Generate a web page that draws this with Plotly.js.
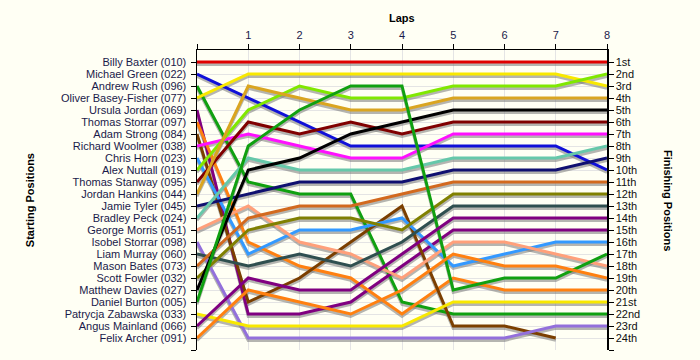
<!DOCTYPE html>
<html>
<head>
<meta charset="utf-8">
<script src="https://cdn.plot.ly/plotly-3.0.1.min.js"></script>
<style>html,body{margin:0;padding:0;background:#fffff4;}#chart{width:700px;height:360px;}</style>
</head>
<body>
<div id="chart"></div>
<script>
var laps = [0, 1, 2, 3, 4, 5, 6, 7, 8];
var lapLabels = ['', '1', '2', '3', '4', '5', '6', '7', '8'];

var drivers = [
  'Billy Baxter (010)', 'Michael Green (022)', 'Andrew Rush (096)', 'Oliver Basey-Fisher (077)',
  'Ursula Jordan (069)', 'Thomas Storrar (097)', 'Adam Strong (084)', 'Richard Woolmer (038)',
  'Chris Horn (023)', 'Alex Nuttall (019)', 'Thomas Stanway (095)', 'Jordan Hankins (044)',
  'Jamie Tyler (045)', 'Bradley Peck (024)', 'George Morris (051)', 'Isobel Storrar (098)',
  'Liam Murray (060)', 'Mason Bates (073)', 'Scott Fowler (032)', 'Matthew Davies (027)',
  'Daniel Burton (005)', 'Patrycja Zabawska (033)', 'Angus Mainland (066)', 'Felix Archer (091)'
];

var finishLabels = ['1st','2nd','3rd','4th','5th','6th','7th','8th','9th','10th','11th','12th',
  '13th','14th','15th','16th','17th','18th','19th','20th','21st','22nd','23rd','24th'];

var positions = [
  [1, 1, 1, 1, 1, 1, 1, 1, 1],
  [2, 4, 6, 8, 8, 8, 8, 8, 10],
  [3, 11, 12, 12, 21, 22, 22, 22, 22],
  [4, 2, 2, 2, 2, 2, 2, 2, 3],
  [5, 22, 22, 21, 18, 15, 15, 15, 15],
  [6, 16, 18, 19, 22, 19, 20, 20, 20],
  [7, 21, 19, 16, 13, 23, 23, 24, null],
  [8, 7, 8, 9, 9, 7, 7, 7, 7],
  [9, 17, 15, 15, 14, 18, 17, 16, 16],
  [10, 5, 3, 4, 4, 3, 3, 3, 2],
  [11, 6, 7, 6, 7, 6, 6, 6, 6],
  [12, 3, 4, 5, 5, 4, 4, 4, 4],
  [13, 12, 11, 11, 11, 10, 10, 10, 9],
  [14, 9, 10, 10, 10, 9, 9, 9, 8],
  [15, 13, 16, 17, 19, 16, 16, 17, 18],
  [16, 24, 24, 24, 24, 24, 24, 23, 23],
  [17, 18, 17, 18, 16, 13, 13, 13, 13],
  [18, 14, 13, 13, 12, 11, 11, 11, 11],
  [19, 15, 14, 14, 15, 12, 12, 12, 12],
  [20, 10, 9, 7, 6, 5, 5, 5, 5],
  [21, 8, 5, 3, 3, 20, 19, 19, 17],
  [22, 23, 23, 23, 23, 21, 21, 21, 21],
  [23, 19, 20, 20, 17, 14, 14, 14, 14],
  [24, 20, 21, 22, 20, 17, 18, 18, 19]
];

var colors = [
  '#e00000', '#1010d8', '#10a010', '#f8e800', '#800080', '#ff8010', '#7b3f00', '#ff10ff',
  '#3399ff', '#80e800', '#800000', '#daa520', '#101070', '#66c8aa', '#ffa07a', '#9370db',
  '#2f4f4f', '#d2691e', '#808000', '#000000', '#10a010', '#f8e800', '#800080', '#ff8010'
];

var rows = [];
for (var i = 1; i <= 25; i++) rows.push(i);
var leftText = drivers.concat(['']);
var rightText = finishLabels.concat(['']);

var traces = [];
// drop shadows
positions.forEach(function (p) {
  traces.push({
    x: laps, y: p.map(function (v) { return v === null ? null : v + 0.2; }),
    mode: 'lines', line: {color: 'rgba(120,120,120,0.55)', width: 3},
    hoverinfo: 'skip', showlegend: false, connectgaps: false
  });
});
positions.forEach(function (p, i) {
  traces.push({
    x: laps, y: p, name: drivers[i],
    mode: 'lines', line: {color: colors[i], width: 3},
    showlegend: false, connectgaps: false
  });
});
traces.push({x: [null], y: [null], yaxis: 'y2', mode: 'lines', showlegend: false, hoverinfo: 'skip'});

var layout = {
  width: 700, height: 360,
  margin: {l: 197, r: 93, t: 50, b: 10, pad: 0},
  paper_bgcolor: '#fffff4', plot_bgcolor: '#fffff4',
  font: {family: 'Liberation Sans, Arial, sans-serif', size: 11, color: '#1a1a4a'},
  xaxis: {
    side: 'top', range: [0, 8], tickvals: laps, ticktext: lapLabels,
    ticks: 'outside', ticklen: 5, tickcolor: '#000', showline: true, linecolor: '#000', linewidth: 1.5,
    showgrid: true, gridcolor: '#e4e4e4', zeroline: false, fixedrange: true,
    tickfont: {size: 11, color: '#1a1a4a'}
  },
  yaxis: {
    range: [25, 0], tickvals: rows, ticktext: leftText,
    ticks: 'outside', ticklen: 5, tickcolor: '#000', showline: true, linecolor: '#000', linewidth: 1.5,
    showgrid: true, gridcolor: '#e4e4e4', zeroline: false, fixedrange: true,
    ticklabelstandoff: 2,
    tickfont: {size: 11, color: '#1a1a4a'}
  },
  yaxis2: {
    overlaying: 'y', side: 'right', range: [25, 0], tickvals: rows, ticktext: rightText,
    ticks: 'outside', ticklen: 5, tickcolor: '#000', showline: true, linecolor: '#000', linewidth: 1.5,
    showgrid: false, zeroline: false, fixedrange: true,
    tickfont: {size: 11, color: '#101010'}
  },
  annotations: [
    {text: '<b>Laps</b>', xref: 'paper', yref: 'paper', x: 0.5, y: 1.107, showarrow: false,
      font: {size: 11, color: '#000'}, xanchor: 'center', yanchor: 'middle'},
    {text: '<b>Starting Positions</b>', xref: 'paper', yref: 'paper', x: -0.407, y: 0.5, showarrow: false,
      textangle: -90, font: {size: 11, color: '#000'}, xanchor: 'center', yanchor: 'middle'},
    {text: '<b>Finishing Positions</b>', xref: 'paper', yref: 'paper', x: 1.149, y: 0.5, showarrow: false,
      textangle: 90, font: {size: 11, color: '#000'}, xanchor: 'center', yanchor: 'middle'}
  ]
};

Plotly.newPlot('chart', traces, layout, {displayModeBar: false, staticPlot: true});
</script>
</body>
</html>
